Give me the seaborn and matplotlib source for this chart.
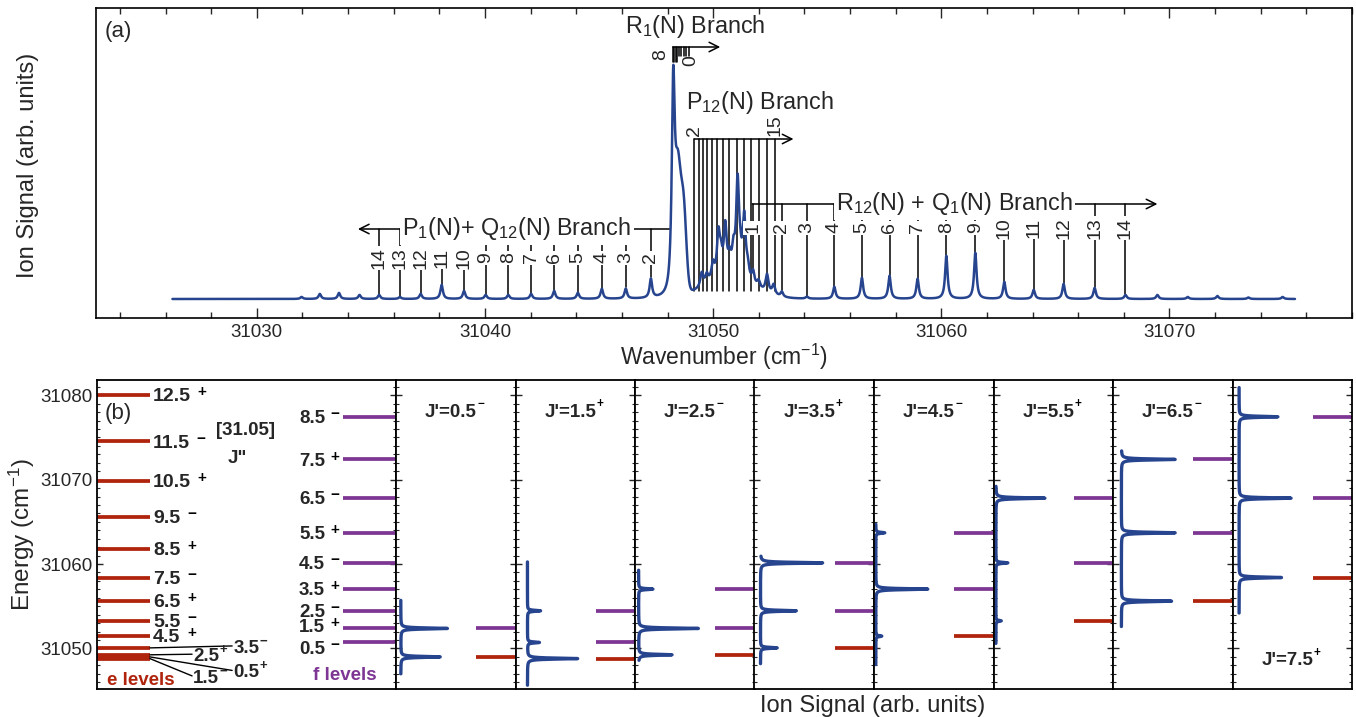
import numpy as np
import matplotlib
matplotlib.use("Agg")
import matplotlib.pyplot as plt
from matplotlib.ticker import MultipleLocator
import seaborn as sns

sns.set_theme(style="ticks")
plt.rcParams["font.family"] = ["Liberation Sans", "DejaVu Sans"]
plt.rcParams["mathtext.fontset"] = "custom"
plt.rcParams["mathtext.rm"] = "Liberation Sans"
plt.rcParams["mathtext.it"] = "Liberation Sans:italic"
plt.rcParams["mathtext.bf"] = "Liberation Sans:bold"

BLUE = "#27448F"
RED = "#B0230C"
PURPLE = "#7E3694"

# ---------------- panel (a) data ----------------
wn_range = (31026.3, 31075.5)

p_branch_N = [14, 13, 12, 11, 10, 9, 8, 7, 6, 5, 4, 3, 2]
p_branch_pos = [31035.36, 31036.27, 31037.18, 31038.10, 31039.08, 31040.03, 31041.02,
                31042.02, 31043.03, 31044.07, 31045.12, 31046.17, 31047.27]
p_branch_h = [0.04, 0.02, 0.05, 0.14, 0.08, 0.04, 0.04, 0.05, 0.08, 0.06, 0.10, 0.10, 0.19]

r12_N = [1, 2, 3, 4, 5, 6, 7, 8, 9, 10, 11, 12, 13, 14]
r12_pos = [31051.75, 31053.01, 31054.11, 31055.31, 31056.52, 31057.73, 31058.96,
           31060.22, 31061.49, 31062.76, 31064.05, 31065.36, 31066.72, 31068.07]
r12_h = [0.12, 0.05, 0.02, 0.12, 0.21, 0.23, 0.20, 0.43, 0.46, 0.17, 0.09, 0.15, 0.11, 0.04]

p12_N = list(range(2, 16))
p12_pos = [31049.17, 31049.36, 31049.55, 31049.72, 31049.94, 31050.19, 31050.43,
           31050.71, 31051.04, 31051.33, 31051.67, 31052.02, 31052.38, 31052.72]

r1_N = [8, 7, 6, 5, 4, 3, 2, 1, 0]
r1_pos = [31048.23, 31048.29, 31048.35, 31048.41, 31048.50, 31048.60, 31048.70, 31048.82, 31048.92]

# bandhead (R1) line shape components
r1_head = (31048.25, 2.04)
r1_shoulder_pos = [31048.45, 31048.70]
r1_shoulder_h = [1.10, 0.85]

# unresolved P12 region
p12_hump = (31050.70, 0.20)
p12_peak_pos = [31049.50, 31049.72, 31049.99, 31050.23, 31050.34, 31050.53, 31050.72,
                31050.89, 31051.07, 31051.18, 31051.36, 31051.51, 31051.99, 31052.36, 31052.65]
p12_peak_h = [0.14, 0.09, 0.16, 0.42, 0.18, 0.48, 0.15, 0.22, 0.92, 0.15, 0.60, 0.12, 0.07, 0.18, 0.10]

extra_pos = [31031.96, 31032.76, 31033.60, 31034.50, 31069.47, 31070.80, 31072.10, 31073.46, 31074.96]
extra_h = [0.02, 0.05, 0.06, 0.04, 0.04, 0.02, 0.03, 0.015, 0.02]

# ---------------- panel (b) data ----------------
e_J = ["0.5", "1.5", "2.5", "3.5", "4.5", "5.5", "6.5", "7.5", "8.5", "9.5", "10.5", "11.5", "12.5"]
e_par = ["+", "−", "+", "−", "+", "−", "+", "−", "+", "−", "+", "−", "+"]
e_E = [31049.0, 31048.8, 31049.25, 31050.07, 31051.46, 31053.27, 31055.6, 31058.4,
       31061.77, 31065.6, 31069.86, 31074.53, 31080.0]

f_J = ["0.5", "1.5", "2.5", "3.5", "4.5", "5.5", "6.5", "7.5", "8.5"]
f_par = ["−", "+", "−", "+", "−", "+", "−", "+", "−"]
f_E = [31050.71, 31052.37, 31054.46, 31057.03, 31060.14, 31063.7, 31067.8, 31072.39, 31077.44]

panel_J = ["0.5", "1.5", "2.5", "3.5", "4.5", "5.5", "6.5", "7.5"]
panel_par = ["−", "+", "−", "+", "−", "+", "−", "+"]
panel_levels = [
    [("f", "1.5"), ("e", "0.5")],
    [("f", "2.5"), ("f", "0.5"), ("e", "1.5")],
    [("f", "3.5"), ("f", "1.5"), ("e", "2.5")],
    [("f", "4.5"), ("f", "2.5"), ("e", "3.5")],
    [("f", "5.5"), ("f", "3.5"), ("e", "4.5")],
    [("f", "6.5"), ("f", "4.5"), ("e", "5.5")],
    [("f", "7.5"), ("f", "5.5"), ("e", "6.5")],
    [("f", "8.5"), ("f", "6.5"), ("e", "7.5")],
]
panel_peak_h = [
    [0.39, 0.33],
    [0.11, 0.10, 0.42],
    [0.12, 0.50, 0.28],
    [0.52, 0.30, 0.14],
    [0.075, 0.435, 0.05],
    [0.41, 0.10, 0.045],
    [0.45, 0.45, 0.42],
    [0.325, 0.435, 0.355],
]
panel_base = [0.04, 0.10, 0.03, 0.05, 0.015, 0.02, 0.07, 0.055]
panel_range = [(31047.0, 31055.7), (31045.65, 31060.26), (31048.6, 31059.27), (31048.2, 31060.94),
               (31048.1, 31064.7), (31050.6, 31069.2), (31052.6, 31073.4), (31054.2, 31080.9)]


def lor(x, c, h, g):
    return h * g ** 2 / ((x - c) ** 2 + g ** 2)


def gau(x, c, h, s):
    return h * np.exp(-0.5 * ((x - c) / s) ** 2)


# ---------------- figure ----------------
W, H = 1356, 717
fig = plt.figure(figsize=(W / 100, H / 100), dpi=100)

# ===== panel (a) =====
axA = fig.add_axes([96 / W, 1 - 318 / H, 1256 / W, 310 / H])
wn = np.arange(wn_range[0], wn_range[1], 0.005)
sig = np.zeros_like(wn)
for c, h in zip(p_branch_pos + r12_pos + extra_pos, p_branch_h + r12_h + extra_h):
    sig += lor(wn, c, h, 0.065)
for c, h in zip(p12_peak_pos, p12_peak_h):
    sig += lor(wn, c, h, 0.075)
sig += lor(wn, r1_head[0], r1_head[1], 0.08)
for c, h in zip(r1_shoulder_pos, r1_shoulder_h):
    sig += gau(wn, c, h, 0.12)
sig += gau(wn, p12_hump[0], p12_hump[1], 1.0)

sns.lineplot(x=wn, y=sig, ax=axA, color=BLUE, lw=1.8, sort=False, estimator=None, zorder=3)

axA.set_xlim(31022.95, 31078.0)
axA.set_ylim(-0.19, 2.91)
axA.set_yticks([])
axA.set_xticks([31030, 31040, 31050, 31060, 31070])
axA.xaxis.set_minor_locator(MultipleLocator(2))
axA.tick_params(axis="x", which="both", direction="in", top=True, labelsize=13.5, pad=4)
axA.tick_params(axis="x", which="major", length=7, width=1)
axA.tick_params(axis="x", which="minor", length=4, width=1)
for s in axA.spines.values():
    s.set_linewidth(1.2)
    s.set_color("black")
axA.set_xlabel("")
axA.set_ylabel("")

NUM_FS = 14
TITLE_FS = 16.8
lab_kw = dict(rotation=90, ha="center", va="center", fontsize=NUM_FS, zorder=5,
              bbox=dict(boxstyle="square,pad=0.06", fc="white", ec="none"))
arrow_kw = dict(arrowstyle="->", color="black", lw=1.1, shrinkA=0, shrinkB=0, mutation_scale=17)

# P1 + Q12 branch
P_BR, P_LAB, P_DASH = 0.70, 0.41, 0.56
for N, x in zip(p_branch_N, p_branch_pos):
    bot = np.interp(x, wn, sig) + 0.01
    if N in (14, 13, 2):
        top = P_BR
    elif N in (12, 11, 10):
        top = P_LAB
    else:
        top = P_DASH
    axA.plot([x, x], [bot, top], color="black", lw=1.1, zorder=2)
    axA.text(x, P_LAB, str(N), **lab_kw)
axA.annotate("", xy=(31034.43, P_BR), xytext=(31048.11, P_BR), arrowprops=arrow_kw, zorder=2)
axA.text(31041.4, P_BR, "P$_1$(N)+ Q$_{12}$(N) Branch", ha="center", va="center", fontsize=TITLE_FS, zorder=5,
         bbox=dict(boxstyle="square,pad=0.1", fc="white", ec="none"))

# R12 + Q1 branch
R_BR, R_LAB, R_DASH = 0.95, 0.71, 0.83
for N, x in zip(r12_N, r12_pos):
    bot = np.interp(x, wn, sig) + 0.01
    top = R_BR if N in (1, 2, 3, 4, 13, 14) else R_DASH
    axA.plot([x, x], [bot, top], color="black", lw=1.1, zorder=2)
    axA.text(x, R_LAB, str(N), **lab_kw)
axA.annotate("", xy=(31069.47, R_BR), xytext=(r12_pos[0] - 0.04, R_BR), arrowprops=arrow_kw, zorder=2)
axA.text(31060.57, R_BR, "R$_{12}$(N) + Q$_1$(N) Branch", ha="center", va="center", fontsize=TITLE_FS, zorder=5,
         bbox=dict(boxstyle="square,pad=0.1", fc="white", ec="none"))

# P12 branch
P12_BR = 1.60
for x in p12_pos:
    axA.plot([x, x], [0.08, P12_BR], color="black", lw=1.1, zorder=2)
axA.annotate("", xy=(31053.52, P12_BR), xytext=(p12_pos[0], P12_BR), arrowprops=arrow_kw, zorder=2)
axA.text(p12_pos[0], P12_BR + 0.03, str(p12_N[0]), rotation=90, ha="center", va="bottom", fontsize=NUM_FS)
axA.text(p12_pos[-1], P12_BR + 0.03, str(p12_N[-1]), rotation=90, ha="center", va="bottom", fontsize=NUM_FS)
axA.text(31052.06, 1.96, "P$_{12}$(N) Branch", ha="center", va="center", fontsize=TITLE_FS)

# R1 branch
R1_BR = 2.52
for i, x in enumerate(r1_pos):
    bot = 2.37 if i < 4 else 2.43
    axA.plot([x, x], [bot, R1_BR], color="black", lw=1.1, zorder=2)
axA.annotate("", xy=(31050.31, R1_BR), xytext=(r1_pos[0], R1_BR), arrowprops=arrow_kw, zorder=2)
axA.text(31047.68, 2.44, str(r1_N[0]), rotation=90, ha="center", va="center", fontsize=NUM_FS)
axA.text(31049.02, 2.38, str(r1_N[-1]), rotation=90, ha="center", va="center", fontsize=NUM_FS)
axA.text(31049.21, 2.72, "R$_1$(N) Branch", ha="center", va="center", fontsize=TITLE_FS)

axA.text(0.007, 0.925, "(a)", transform=axA.transAxes, ha="left", va="center", fontsize=16)

fig.text(724 / W, 1 - 357 / H, "Wavenumber (cm$^{-1}$)", ha="center", va="center", fontsize=16.5)
fig.text(28 / W, 1 - 165 / H, "Ion Signal (arb. units)", rotation=90, ha="center", va="center", fontsize=17)

# ===== panel (b) =====
YL = (31045.2, 31081.8)
e_map = dict(zip(e_J, e_E))
f_map = dict(zip(f_J, f_E))
LV_FS = 14
SG_FS = 11


def add_sign(ax, t, sign, dx, fs, color, frac=0.5):
    ax.annotate(sign, xy=(1, frac), xycoords=t, xytext=(dx, 0), textcoords="offset points",
                ha="left", va="bottom", fontsize=fs, fontweight="bold", color=color)


axL = fig.add_axes([97 / W, 1 - 689 / H, 299 / W, 309 / H])
axL.set_xlim(0, 1)
axL.set_ylim(*YL)
axL.hlines(e_E, 0, 0.177, color=RED, lw=2.7)
axL.hlines(f_E, 0.823, 1.0, color=PURPLE, lw=2.7)
for J, p, E in zip(e_J, e_par, e_E):
    if J in ("0.5", "1.5", "2.5", "3.5"):
        continue
    t = axL.text(0.187, E - 0.2, J, ha="left", va="center", fontsize=LV_FS, fontweight="bold")
    add_sign(axL, t, p, 5, SG_FS, "black", frac=0.35)
# leader labels for the bunched low-J e levels
leaders = {"3.5": (0.452, 31050.30), "2.5": (0.318, 31049.32), "0.5": (0.452, 31047.40), "1.5": (0.318, 31046.75)}
for J, (lx, ly) in leaders.items():
    E = e_map[J]
    axL.plot([0.177, lx], [E, ly], color="black", lw=1.0)
    t = axL.text(lx + 0.004, ly - 0.3, J, ha="left", va="center", fontsize=LV_FS - 0.5, fontweight="bold")
    axL.annotate(e_par[e_J.index(J)], xy=(1, 0.55), xycoords=t, xytext=(0.2, 0), textcoords="offset points",
                 ha="left", va="bottom", fontsize=9.5, fontweight="bold")
f_nudge = {"1.5": 0.3, "0.5": -0.6}
for J, p, E in zip(f_J, f_par, f_E):
    t = axL.text(0.676, E - 0.2 + f_nudge.get(J, 0.0), J, ha="left", va="center",
                 fontsize=13.5, fontweight="bold")
    add_sign(axL, t, p, 3.5, SG_FS, "black", frac=0.35)
axL.text(0.033, 31046.25, "e levels", ha="left", va="center", fontsize=13.5, fontweight="bold", color=RED)
axL.text(0.722, 31046.84, "f levels", ha="left", va="center", fontsize=13.5, fontweight="bold", color=PURPLE)
axL.text(0.027, 0.893, "(b)", transform=axL.transAxes, ha="left", va="center", fontsize=16)
axL.text(0.495, 31075.86, "[31.05]", ha="center", va="center", fontsize=13.5, fontweight="bold")
axL.text(0.468, 31072.5, 'J"', ha="center", va="center", fontsize=13.5, fontweight="bold")

axL.set_yticks([31050, 31060, 31070, 31080])
axL.yaxis.set_minor_locator(MultipleLocator(1))
axL.set_xticks([])
axL.tick_params(axis="y", which="both", direction="in", right=True, labelsize=13.5)
axL.tick_params(axis="y", which="major", length=4, width=1)
axL.tick_params(axis="y", which="minor", length=2, width=0.8)
for s in axL.spines.values():
    s.set_linewidth(1.3)
    s.set_color("black")

fig.text(22 / W, 1 - 535 / H, "Energy (cm$^{-1}$)", rotation=90, ha="center", va="center", fontsize=17.5)

pw = (1352 - 396) / 8
for i in range(8):
    ax = fig.add_axes([(396 + i * pw) / W, 1 - 689 / H, pw / W, 309 / H])
    lo, hi = panel_range[i]
    E = np.arange(lo, hi, 0.01)
    s = np.full_like(E, panel_base[i])
    for (kind, J), h in zip(panel_levels[i], panel_peak_h[i]):
        c = e_map[J] if kind == "e" else f_map[J]
        s += lor(E, c, h, 0.07)
    sns.lineplot(x=s, y=E, ax=ax, orient="y", sort=False, estimator=None, color=BLUE, lw=2.4)
    for kind, J in panel_levels[i]:
        c = e_map[J] if kind == "e" else f_map[J]
        ax.hlines(c, 0.67, 1.0, color=RED if kind == "e" else PURPLE, lw=2.7)
    ax.set_xlim(0, 1)
    ax.set_ylim(*YL)
    ax.set_xticks([])
    ax.set_yticks([31050, 31060, 31070, 31080])
    ax.yaxis.set_minor_locator(MultipleLocator(1))
    ax.tick_params(axis="y", which="both", direction="in", right=True, labelleft=False)
    ax.tick_params(axis="y", which="major", length=4, width=1)
    ax.tick_params(axis="y", which="minor", length=2, width=0.8)
    ax.set_xlabel("")
    ax.set_ylabel("")
    for sp in ax.spines.values():
        sp.set_linewidth(1.3)
        sp.set_color("black")
    ty = 31078.0 if i < 7 else 31048.6
    t = ax.text(0.46, ty, "J'=" + panel_J[i], ha="center", va="center", fontsize=13.5, fontweight="bold")
    add_sign(ax, t, panel_par[i], 0.2, 8.5, "black", frac=0.6)

fig.text(873 / W, 1 - 706 / H, "Ion Signal (arb. units)", ha="center", va="center", fontsize=17)

fig.savefig("out.png", dpi=100)
